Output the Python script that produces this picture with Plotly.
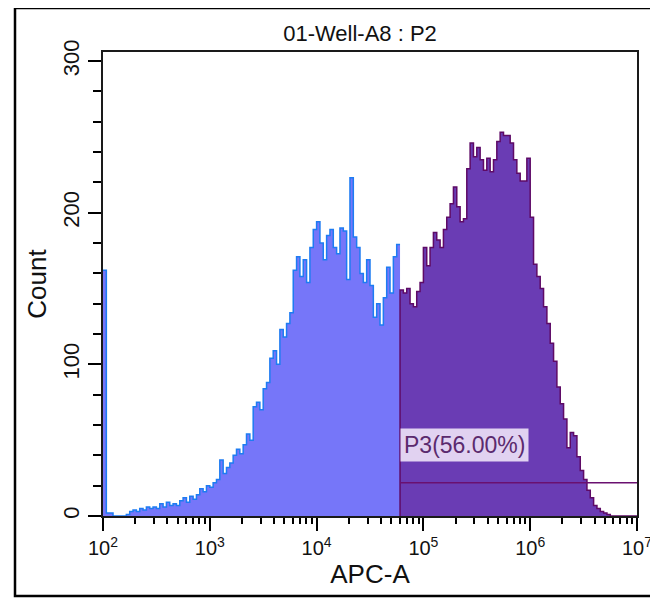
import numpy as np
import plotly.graph_objects as go

# histogram of APC-A, 32 log bins per decade from 1e2 to 1e7
bins_per_decade = 32
counts = [
    162, 2, 2, 0, 0, 0, 0, 1, 3, 4,
    3, 5, 4, 6, 5, 6, 5, 8, 6, 9,
    7, 8, 7, 10, 12, 9, 13, 11, 14, 18,
    16, 20, 19, 22, 24, 37, 28, 32, 35, 40,
    44, 41, 47, 54, 50, 72, 75, 70, 84, 88,
    104, 109, 100, 123, 118, 127, 134, 162, 171, 158,
    169, 154, 177, 189, 194, 180, 169, 185, 189, 177,
    173, 190, 188, 156, 223, 184, 177, 160, 154, 169,
    152, 131, 140, 126, 144, 164, 147, 171, 179, 149,
    147, 150, 140, 138, 148, 154, 177, 165, 177, 187,
    182, 177, 189, 197, 206, 217, 204, 194, 196, 229,
    246, 237, 243, 235, 228, 236, 227, 235, 247, 253,
    251, 251, 246, 235, 226, 221, 221, 236, 197, 166,
    158, 150, 138, 127, 114, 102, 85, 74, 64, 45,
    55, 53, 39, 30, 24, 17, 12, 7, 5, 3,
    2, 1, 0, 0, 0, 0, 0, 0, 0, 0,
]
gate_bin = 89          # P3 starts here
gate_count = 22        # height of the P3 marker line
gate_label = "P3(56.00%)"

title = "01-Well-A8 : P2"
x_title = "APC-A"
y_title = "Count"

edges = 10 ** (2 + np.arange(len(counts) + 1) / bins_per_decade)

blue_x = list(edges[: gate_bin + 1])
blue_y = counts[:gate_bin] + [counts[gate_bin - 1]]

p3_x = [edges[gate_bin]] + list(edges[gate_bin:])
p3_y = [0] + counts[gate_bin:] + [counts[-1]]

font = "Liberation Sans, Arial, sans-serif"

# the page body has an 8px margin, so the figure is a bit smaller than the window
W, H = 650, 590

fig = go.Figure()
fig.add_trace(
    go.Scatter(
        x=blue_x,
        y=blue_y,
        mode="lines",
        line=dict(shape="hv", color="#1E7CF2", width=1.5),
        fill="tozeroy",
        fillcolor="#7676F9",
        hoverinfo="skip",
        showlegend=False,
    )
)
fig.add_trace(
    go.Scatter(
        x=p3_x,
        y=p3_y,
        mode="lines",
        line=dict(shape="hv", color="#5E0A66", width=1.5),
        fill="tozeroy",
        fillcolor="#6A3CB4",
        hoverinfo="skip",
        showlegend=False,
    )
)
# P3 gate marker
fig.add_trace(
    go.Scatter(
        x=[edges[gate_bin], edges[-1]],
        y=[gate_count, gate_count],
        mode="lines",
        line=dict(color="#6A1070", width=1.5),
        hoverinfo="skip",
        showlegend=False,
    )
)

fig.add_annotation(
    x=np.log10(edges[gate_bin]),
    y=gate_count + 25,
    text=gate_label,
    showarrow=False,
    xanchor="left",
    yanchor="middle",
    bgcolor="rgba(236,224,246,0.92)",
    borderpad=3,
    font=dict(family=font, size=23, color="#5B2A6E"),
)

major = [10**k for k in range(2, 8)]
minor = [m * 10**k for k in range(2, 7) for m in range(2, 10)]

fig.update_layout(
    width=W,
    height=H,
    margin=dict(l=95, r=21, t=44, b=82, autoexpand=False),
    plot_bgcolor="white",
    paper_bgcolor="white",
    font=dict(family=font, size=22, color="#111"),
    title=dict(
        text=title,
        x=352 / W,
        xref="container",
        xanchor="center",
        y=1 - 25 / H,
        yref="container",
        yanchor="middle",
        font=dict(size=22),
        automargin=False,
    ),
    xaxis=dict(
        type="log",
        range=[2, 7],
        automargin=False,
        showgrid=False,
        zeroline=False,
        showline=True,
        linecolor="#1a1a1a",
        linewidth=2,
        mirror=True,
        ticks="outside",
        ticklen=13,
        tickwidth=1.5,
        tickcolor="black",
        tickvals=major,
        ticktext=[f"10<sup>{k}</sup>" for k in range(2, 8)],
        tickfont=dict(size=20),
        minor=dict(
            tickvals=minor,
            ticks="outside",
            ticklen=6,
            tickwidth=1.5,
            tickcolor="black",
            showgrid=False,
        ),
        title=dict(text=x_title, standoff=1),
    ),
    yaxis=dict(
        range=[0, 306],
        automargin=False,
        showgrid=False,
        zeroline=False,
        showline=True,
        linecolor="#1a1a1a",
        linewidth=2,
        mirror=True,
        ticks="outside",
        ticklen=13,
        tickwidth=1.5,
        tickcolor="black",
        tickvals=[0, 100, 200, 300],
        tickangle=-90,
        minor=dict(
            dtick=20,
            ticks="outside",
            ticklen=8,
            tickwidth=1.5,
            tickcolor="black",
            showgrid=False,
        ),
        title=dict(text=y_title, standoff=5),
    ),
)

# outer frame around the whole picture
fig.add_shape(
    type="rect",
    xref="paper",
    yref="paper",
    x0=(15 - 103) / 534,
    x1=(664 - 103) / 534,
    y0=(516 - 596) / 464,
    y1=(516 - 8) / 464,
    line=dict(color="black", width=2.5),
    fillcolor="rgba(0,0,0,0)",
    layer="below",
)

fig.write_html("out.html")
